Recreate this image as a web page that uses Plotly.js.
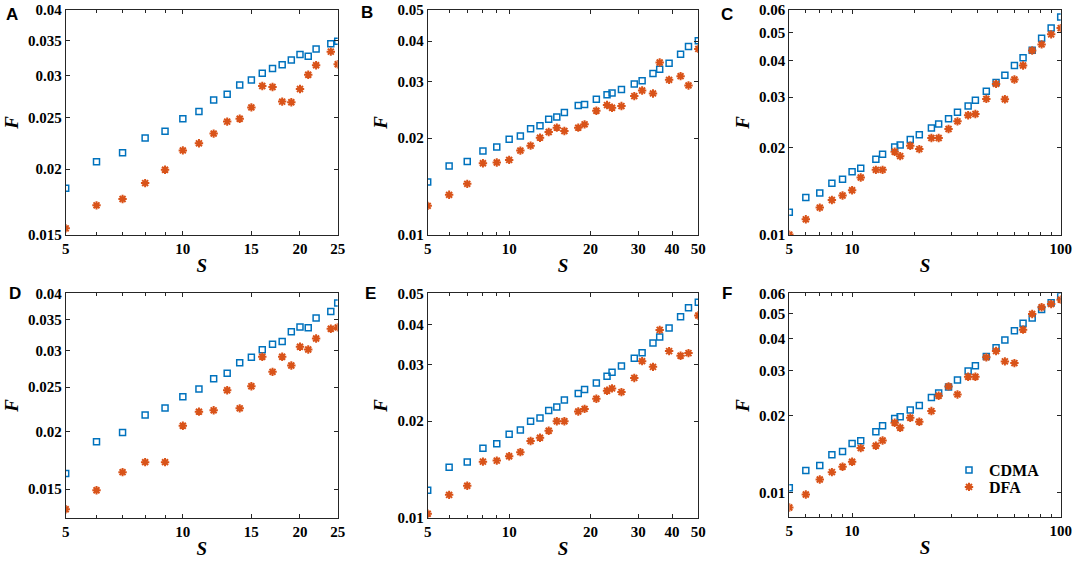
<!DOCTYPE html>
<html>
<head>
<meta charset="utf-8">
<script src="https://cdn.plot.ly/plotly-3.0.1.min.js"></script>
<style>
  body { margin: 0; background: #fff; }
  #fig { width: 1074px; height: 562px; }
</style>
</head>
<body>
<div id="fig"></div>
<script>
// valeurs de S (echelles)
var sA = [5, 6, 7, 8, 9, 10, 11, 12, 13, 14, 15, 16, 17, 18, 19, 20, 21, 22, 24, 25];
var sB = [5, 6, 7, 8, 9, 10, 11, 12, 13, 14, 15, 16, 18, 19, 21, 23, 24, 26, 29, 31, 34, 36, 39, 43, 46, 50];
var sC = [5, 6, 7, 8, 9, 10, 11, 13, 14, 16, 17, 19, 21, 24, 26, 29, 32, 36, 39, 44, 49, 54, 60, 66, 73, 81, 90, 100];

// panneau A
var cdmaA = [0.0184, 0.02065, 0.02147, 0.0229, 0.02357, 0.0249, 0.02569, 0.02703, 0.0277, 0.02884,
  0.02948, 0.03035, 0.03098, 0.03152, 0.03218, 0.03293, 0.03268, 0.03376, 0.03454, 0.03489];
var dfaA = [0.01544, 0.01707, 0.01755, 0.01881, 0.01994, 0.02169, 0.02237, 0.02334, 0.02459, 0.0249,
  0.02616, 0.02872, 0.02859, 0.02683, 0.02676, 0.02835, 0.03017, 0.03143, 0.03336, 0.03157];

// panneau B
var cdmaB = [0.01462, 0.01639, 0.01691, 0.01824, 0.01877, 0.01983, 0.02031, 0.0214, 0.02186, 0.02287,
  0.02326, 0.02404, 0.02527, 0.02545, 0.02643, 0.02726, 0.02759, 0.02833, 0.02943, 0.03012,
  0.03175, 0.03274, 0.03418, 0.03644, 0.03849, 0.04016];
var dfaB = [0.01232, 0.01333, 0.01442, 0.01671, 0.01679, 0.01711, 0.01829, 0.01895, 0.02006, 0.02089,
  0.02155, 0.02104, 0.02155, 0.02207, 0.02433, 0.02533, 0.02485, 0.02515, 0.02701, 0.02812,
  0.02753, 0.03434, 0.03034, 0.03115, 0.02915, 0.03785];

// panneau C
var cdmaC = [0.01198, 0.01347, 0.01398, 0.01511, 0.0156, 0.01654, 0.01703, 0.01829, 0.01904, 0.02014,
  0.02046, 0.02141, 0.02222, 0.02344, 0.02419, 0.02525, 0.02656, 0.02795, 0.02924, 0.03141,
  0.03367, 0.0357, 0.03856, 0.04099, 0.04358, 0.04796, 0.05195, 0.05672];
var dfaC = [0.01003, 0.01133, 0.01244, 0.01322, 0.01369, 0.01428, 0.01581, 0.0168, 0.0168, 0.0194,
  0.01874, 0.02035, 0.01982, 0.02164, 0.02164, 0.02325, 0.02472, 0.02594, 0.02622, 0.02956,
  0.03331, 0.02947, 0.03448, 0.03856, 0.04348, 0.04562, 0.04942, 0.05195];

// panneau D
var cdmaD = [0.01622, 0.01902, 0.01993, 0.02174, 0.02252, 0.02384, 0.02478, 0.02606, 0.02681, 0.02825,
  0.02905, 0.03014, 0.03101, 0.03143, 0.033, 0.03378, 0.03367, 0.03534, 0.03653, 0.0381];
var dfaD = [0.01356, 0.01492, 0.01633, 0.01717, 0.01717, 0.02061, 0.02211, 0.02226, 0.02461, 0.02248,
  0.02511, 0.02911, 0.02699, 0.02911, 0.02786, 0.0306, 0.03019, 0.0319, 0.03349, 0.03372];

// panneau E
var cdmaE = [0.01218, 0.01436, 0.01492, 0.01647, 0.01699, 0.01818, 0.01875, 0.01997, 0.02045, 0.02157,
  0.02214, 0.02325, 0.02439, 0.0251, 0.02628, 0.02758, 0.02838, 0.02971, 0.0314, 0.03264,
  0.03501, 0.03655, 0.039, 0.04224, 0.04508, 0.04687];
var dfaE = [0.01029, 0.01178, 0.01257, 0.01495, 0.01506, 0.01554, 0.016, 0.01733, 0.01774, 0.01866,
  0.01997, 0.01997, 0.02141, 0.02182, 0.02346, 0.02486, 0.02528, 0.02462, 0.02725, 0.03073,
  0.0295, 0.03846, 0.03303, 0.03195, 0.03256, 0.04266];

// panneau F
var cdmaF = [0.01043, 0.01219, 0.01275, 0.01404, 0.01446, 0.01554, 0.01592, 0.01727, 0.01822, 0.01947,
  0.01976, 0.02099, 0.02188, 0.02352, 0.02446, 0.02582, 0.0275, 0.02982, 0.03128, 0.03401,
  0.03679, 0.03942, 0.04286, 0.0458, 0.04804, 0.05181, 0.05515, 0.05857];
var dfaF = [0.00874, 0.00982, 0.01124, 0.01201, 0.0126, 0.01318, 0.01491, 0.01522, 0.01597, 0.01873,
  0.0179, 0.01958, 0.01889, 0.0208, 0.02388, 0.02597, 0.02416, 0.02833, 0.02833, 0.03372,
  0.0357, 0.03252, 0.03203, 0.04326, 0.04979, 0.05291, 0.0545, 0.05666];

// graduations
var xTicksA = [5, 10, 15, 20, 25];
var xTicksB = [5, 10, 20, 30, 40, 50];
var xTicksC = [5, 10, 100];
var xMinorA = [6, 7, 8, 9];
var xMinorC = [6, 7, 8, 9, 20, 30, 40, 50, 60, 70, 80, 90];
var yTicksA = [0.015, 0.02, 0.025, 0.03, 0.035, 0.04];
var yTicksB = [0.01, 0.02, 0.03, 0.04, 0.05];
var yTicksC = [0.01, 0.02, 0.03, 0.04, 0.05, 0.06];

var blue = '#0072BD';
var red = '#D95319';
var serif = 'Liberation Serif, Times New Roman, serif';
var W = 1074, H = 562;

var panels = [
  { lab: 'A', s: sA, c: cdmaA, d: dfaA, xr: [5, 25], yr: [0.015, 0.04], xt: xTicksA, xm: xMinorA, yt: yTicksA, px: [65.7, 337.7], py: [10, 235], lx: 12, ly: 14 },
  { lab: 'B', s: sB, c: cdmaB, d: dfaB, xr: [5, 50], yr: [0.01, 0.05], xt: xTicksB, xm: xMinorA, yt: yTicksB, px: [427.7, 698.3], py: [10, 235], lx: 367, ly: 13 },
  { lab: 'C', s: sC, c: cdmaC, d: dfaC, xr: [5, 100], yr: [0.01, 0.06], xt: xTicksC, xm: xMinorC, yt: yTicksC, px: [789.3, 1060.7], py: [10, 235], lx: 727, ly: 14 },
  { lab: 'D', s: sA, c: cdmaD, d: dfaD, xr: [5, 25], yr: [0.013, 0.04], xt: xTicksA, xm: xMinorA, yt: yTicksA, px: [65.7, 337.7], py: [293.3, 517.7], lx: 15, ly: 293 },
  { lab: 'E', s: sB, c: cdmaE, d: dfaE, xr: [5, 50], yr: [0.01, 0.05], xt: xTicksB, xm: xMinorA, yt: yTicksB, px: [427.7, 698.3], py: [293.3, 517.7], lx: 370, ly: 293 },
  { lab: 'F', s: sC, c: cdmaF, d: dfaF, xr: [5, 100], yr: [0.008, 0.06], xt: xTicksC, xm: xMinorC, yt: yTicksC, px: [789.3, 1060.7], py: [293.3, 517.3], lx: 727, ly: 293 }
];

var legendFont = { family: serif, size: 16, color: '#000', weight: 'bold' };

var data = [];
var layout = {
  width: W,
  height: H,
  margin: { t: 0, b: 0, l: 0, r: 0 },
  paper_bgcolor: '#fff',
  plot_bgcolor: '#fff',
  showlegend: true,
  // deux legendes pour avoir l'espacement serre de l'original
  legend: {
    x: 949 / W, y: 1 - 470 / H, xanchor: 'left', yanchor: 'middle',
    bgcolor: 'rgba(0,0,0,0)', font: legendFont
  },
  legend2: {
    x: 949 / W, y: 1 - 487 / H, xanchor: 'left', yanchor: 'middle',
    bgcolor: 'rgba(0,0,0,0)', font: legendFont
  },
  annotations: []
};

function axe(p, isX) {
  var r = isX ? p.xr : p.yr;
  var t = isX ? p.xt : p.yt;
  var a = {
    type: 'log',
    range: [Math.log10(r[0]), Math.log10(r[1])],
    tickvals: t,
    ticktext: t.map(String),
    ticks: 'inside',
    ticklen: 4,
    tickwidth: 1,
    tickcolor: '#262626',
    showline: true,
    linecolor: '#262626',
    linewidth: 1,
    mirror: 'ticks',
    showgrid: false,
    zeroline: false,
    tickfont: { family: serif, size: 15, color: '#000', weight: 'bold' },
    title: {
      text: isX ? '<b><i>S</i></b>' : '<b><i>F</i></b>',
      font: { family: serif, size: 19, color: '#000' },
      standoff: isX ? 2 : 4
    }
  };
  if (isX) {
    a.domain = [p.px[0] / W, p.px[1] / W];
    a.minor = { tickvals: p.xm, ticks: 'inside', ticklen: 3, tickcolor: '#262626', showgrid: false };
  } else {
    a.domain = [1 - p.py[1] / H, 1 - p.py[0] / H];
  }
  return a;
}

panels.forEach(function(p, i) {
  var n = i === 0 ? '' : String(i + 1);
  data.push({
    x: p.s, y: p.c, xaxis: 'x' + n, yaxis: 'y' + n,
    type: 'scatter', mode: 'markers', name: 'CDMA',
    showlegend: p.lab === 'F', legend: 'legend',
    marker: { symbol: 'square-open', size: 6, color: blue, line: { color: blue, width: 1.5 } }
  });
  data.push({
    x: p.s, y: p.d, xaxis: 'x' + n, yaxis: 'y' + n,
    type: 'scatter', mode: 'markers', name: 'DFA',
    showlegend: p.lab === 'F', legend: 'legend2',
    marker: { symbol: 'asterisk-open', size: 7, color: red, line: { color: red, width: 2 } }
  });
  var xa = axe(p, true);
  var ya = axe(p, false);
  xa.anchor = 'y' + n;
  ya.anchor = 'x' + n;
  layout['xaxis' + n] = xa;
  layout['yaxis' + n] = ya;
  // lettre du panneau
  layout.annotations.push({
    xref: 'paper', yref: 'paper',
    x: p.lx / W, y: 1 - p.ly / H,
    xanchor: 'center', yanchor: 'middle',
    text: '<b>' + p.lab + '</b>', showarrow: false,
    font: { family: 'Liberation Sans, Arial, sans-serif', size: 17, color: '#000' }
  });
});

Plotly.newPlot('fig', data, layout, { displayModeBar: false, staticPlot: true });
</script>
</body>
</html>
